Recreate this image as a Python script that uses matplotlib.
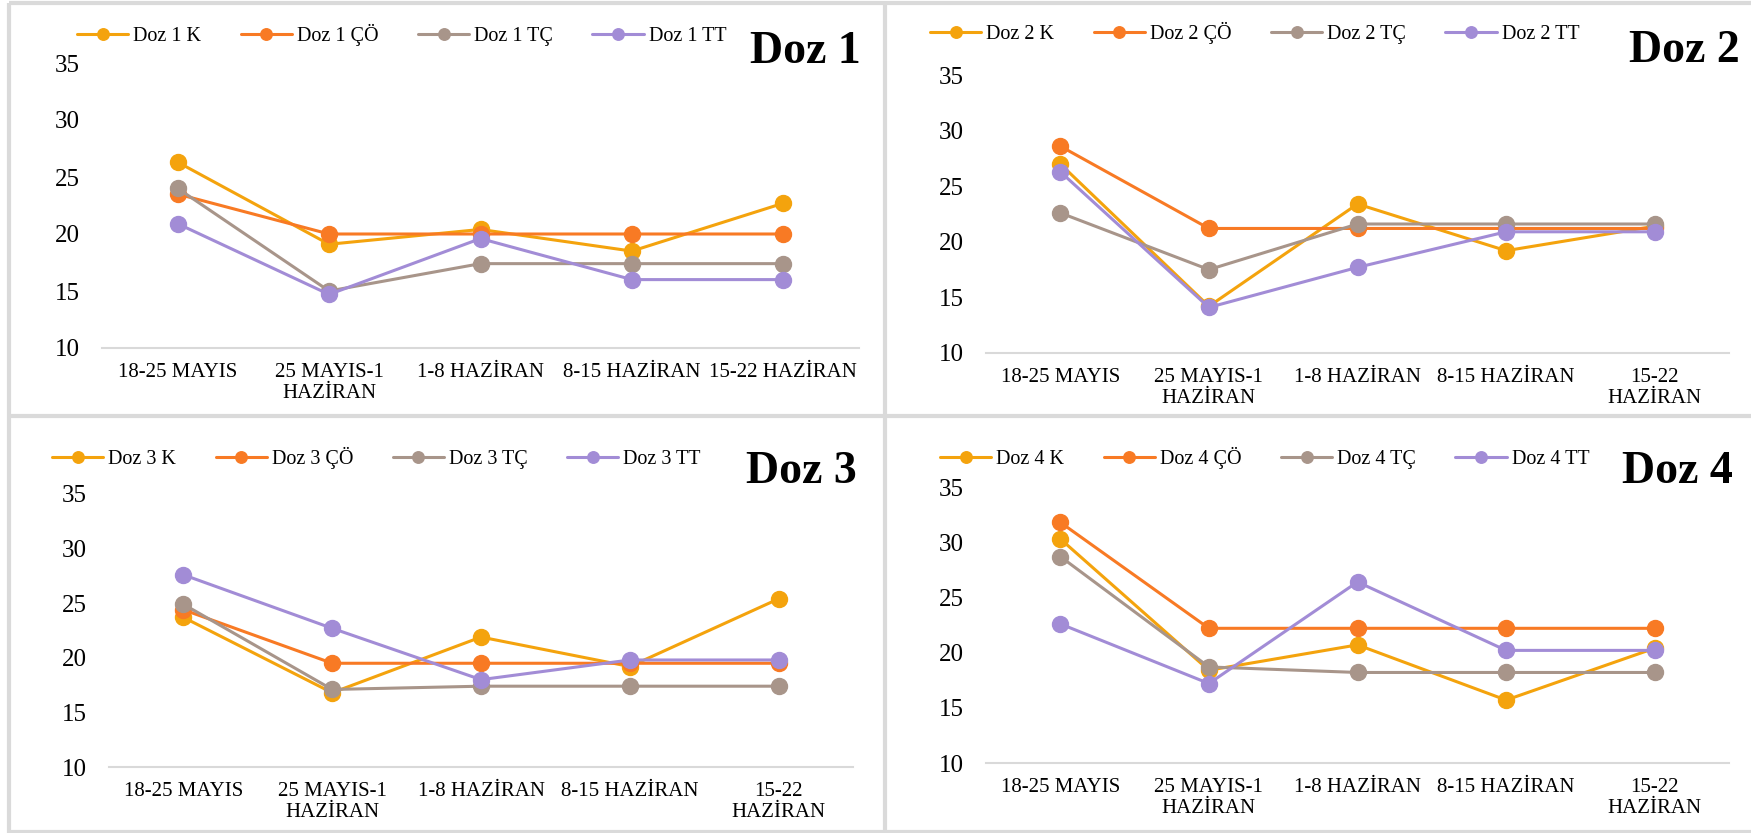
import matplotlib
matplotlib.use("Agg")
import matplotlib.pyplot as plt
from matplotlib.lines import Line2D

plt.rcParams['font.family'] = ['Liberation Serif', 'DejaVu Serif']

# Weekly periods (x categories)
periods_one_line = ["18-25 MAYIS", "25 MAYIS-1\nHAZİRAN", "1-8 HAZİRAN",
                    "8-15 HAZİRAN", "15-22 HAZİRAN"]
periods_wrapped = ["18-25 MAYIS", "25 MAYIS-1\nHAZİRAN", "1-8 HAZİRAN",
                   "8-15 HAZİRAN", "15-22\nHAZİRAN"]

treatments = ["K", "ÇÖ", "TÇ", "TT"]
colors = ["#F4A30D", "#F87A24", "#A8958A", "#A28CD6"]
y_ticks = [10, 15, 20, 25, 30, 35]

# Values per dose, in order K, ÇÖ, TÇ, TT
doz1_k = [26.3, 19.1, 20.4, 18.5, 22.7]
doz1_co = [23.5, 20.0, 20.0, 20.0, 20.0]
doz1_tc = [24.0, 15.0, 17.4, 17.4, 17.4]
doz1_tt = [20.9, 14.7, 19.6, 16.0, 16.0]

doz2_k = [27.0, 14.2, 23.4, 19.2, 21.4]
doz2_co = [28.6, 21.2, 21.2, 21.2, 21.2]
doz2_tc = [22.6, 17.5, 21.6, 21.6, 21.6]
doz2_tt = [26.3, 14.1, 17.7, 20.9, 20.9]

doz3_k = [23.7, 16.8, 21.9, 19.2, 25.4]
doz3_co = [24.4, 19.5, 19.5, 19.5, 19.5]
doz3_tc = [24.9, 17.1, 17.4, 17.4, 17.4]
doz3_tt = [27.6, 22.7, 18.0, 19.8, 19.8]

doz4_k = [30.3, 18.4, 20.7, 15.7, 20.4]
doz4_co = [31.8, 22.2, 22.2, 22.2, 22.2]
doz4_tc = [28.7, 18.7, 18.2, 18.2, 18.2]
doz4_tt = [22.6, 17.2, 26.4, 20.2, 20.2]

W, H = 1751, 833
fig = plt.figure(figsize=(W / 100, H / 100), dpi=100)
fig.patch.set_facecolor("white")


def fx(px):
    return px / W


def fy(py):
    return 1 - py / H


# panel frame lines
sep = "#DADADA"
for (x0, y0, x1, y1) in [(9, 3, W, 3), (9, 416, W, 416), (9, 831.5, W, 831.5),
                         (9, 3, 9, 833), (884.5, 3, 884.5, 833)]:
    fig.add_artist(Line2D([fx(x0), fx(x1)], [fy(y0), fy(y1)],
                          color=sep, lw=3.0, solid_capstyle="butt"))

panels = [
    dict(name="Doz 1", series=[doz1_k, doz1_co, doz1_tc, doz1_tt], labels=periods_one_line,
         box=(102, 63, 859, 348), leg=(77, 35), title=(861, 63)),
    dict(name="Doz 2", series=[doz2_k, doz2_co, doz2_tc, doz2_tt], labels=periods_wrapped,
         box=(986, 75, 1729, 353), leg=(930, 33), title=(1740, 62)),
    dict(name="Doz 3", series=[doz3_k, doz3_co, doz3_tc, doz3_tt], labels=periods_wrapped,
         box=(109, 494, 853, 767), leg=(52, 458), title=(857, 483)),
    dict(name="Doz 4", series=[doz4_k, doz4_co, doz4_tc, doz4_tt], labels=periods_wrapped,
         box=(986, 487, 1729, 763), leg=(940, 458), title=(1733, 483)),
]

for p in panels:
    x0, y0, x1, y1 = p["box"]
    ax = fig.add_axes([fx(x0), fy(y1), fx(x1) - fx(x0), fy(y0) - fy(y1)])
    xs = list(range(len(p["labels"])))
    handles = []
    for vals, c, t in zip(p["series"], colors, treatments):
        h, = ax.plot(xs, vals, color=c, lw=2.2, marker="o", markersize=11.5,
                     markerfacecolor=c, markeredgecolor=c, label=f"{p['name']} {t}",
                     solid_capstyle="round", clip_on=False)
        handles.append(h)
    ax.set_xlim(-0.5, len(xs) - 0.5)
    ax.set_ylim(10, 35)
    ax.set_yticks(y_ticks)
    ax.set_xticks(xs)
    ax.set_xticklabels(p["labels"], fontsize=15, linespacing=1.12)
    ax.tick_params(axis="y", length=0, pad=16, labelsize=18)
    ax.tick_params(axis="x", length=0, pad=11)
    for s in ["top", "right", "left"]:
        ax.spines[s].set_visible(False)
    ax.spines["bottom"].set_color("#D9D9D9")
    ax.spines["bottom"].set_linewidth(1.5)
    ax.set_facecolor("none")

    lx, ly = p["leg"]
    fig.legend(handles=handles, loc="center left", bbox_to_anchor=(fx(lx), fy(ly)),
               ncol=4, frameon=False, fontsize=14.5, handlelength=2.55,
               handletextpad=0.25, columnspacing=1.95, markerscale=0.72,
               borderaxespad=0, borderpad=0)

    tx, ty = p["title"]
    fig.text(fx(tx), fy(ty), p["name"], ha="right", va="baseline",
             fontsize=33, fontweight="bold")

fig.savefig("out.png", dpi=100, facecolor="white")
